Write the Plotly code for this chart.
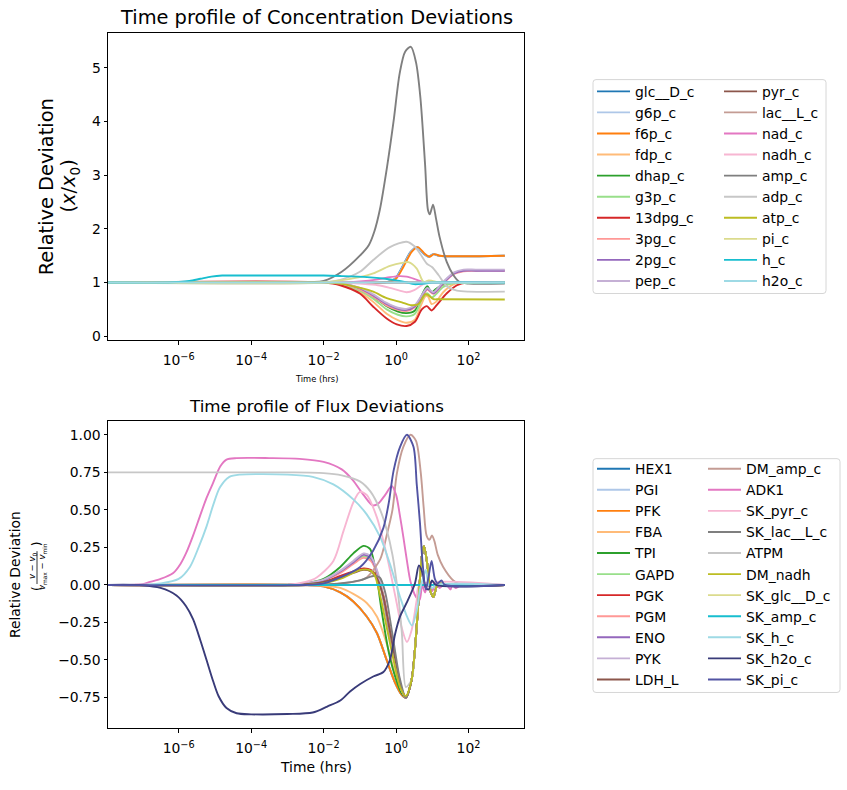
import numpy as np
import plotly.graph_objects as go

W, H = 847, 790

# ---------------- data: concentration deviations (x / x0) ----------------
CONC_NAMES = ["glc__D_c", "g6p_c", "f6p_c", "fdp_c", "dhap_c", "g3p_c", "13dpg_c",
              "3pg_c", "2pg_c", "pep_c", "pyr_c", "lac__L_c", "nad_c", "nadh_c",
              "amp_c", "adp_c", "atp_c", "pi_c", "h_c", "h2o_c"]
TAB20 = ["#1f77b4", "#aec7e8", "#ff7f0e", "#ffbb78", "#2ca02c", "#98df8a", "#d62728",
         "#ff9896", "#9467bd", "#c5b0d5", "#8c564b", "#c49c94", "#e377c2", "#f7b6d2",
         "#7f7f7f", "#c7c7c7", "#bcbd22", "#dbdb8d", "#17becf", "#9edae5"]
CONC_COLORS = TAB20

# log10(time in hours) and the relative deviation at those times
CONC_LOGT = {
    "glc__D_c": [-8.0, -1.5, -0.5, -0.18, -0.03, 0.17, 0.4, 0.57, 0.77, 0.89, 1.02, 1.17, 3.0],
    "g6p_c":    [-8.0, -1.5, -0.5, -0.17, -0.02, 0.18, 0.41, 0.58, 0.78, 0.9, 1.03, 1.18, 3.0],
    "f6p_c":    [-8.0, -1.5, -0.5, -0.15, 0.0, 0.2, 0.43, 0.6, 0.8, 0.92, 1.05, 1.2, 3.0],
    "fdp_c":    [-8.0, -2.0, -1.54, -1.0, -0.63, -0.26, 0.05, 0.29, 0.52, 0.7, 0.82, 0.88, 0.98, 1.1, 1.3, 1.6, 2.0, 3.0],
    "dhap_c":   [-8.0, -2.0, -1.5, -1.0, -0.63, -0.26, 0.05, 0.29, 0.52, 0.72, 0.86, 0.98, 1.1, 1.3, 1.6, 3.0],
    "g3p_c":    [-8.0, -2.0, -1.5, -1.0, -0.63, -0.26, 0.05, 0.29, 0.52, 0.72, 0.86, 0.98, 1.1, 1.3, 1.6, 3.0],
    "13dpg_c":  [-8.0, -2.0, -1.54, -0.99, -0.63, -0.26, 0.02, 0.29, 0.52, 0.71, 0.85, 0.98, 1.12, 1.4, 1.68, 1.95, 3.0],
    "3pg_c":    [-8.0, -2.0, -1.5, -0.99, -0.63, -0.26, 0.05, 0.29, 0.52, 0.76, 0.86, 1.03, 1.31, 1.6, 1.86, 2.2, 3.0],
    "2pg_c":    [-8.0, -2.0, -1.5, -0.99, -0.63, -0.26, 0.05, 0.29, 0.52, 0.76, 0.86, 1.03, 1.31, 1.6, 1.86, 2.2, 3.0],
    "pep_c":    [-8.0, -2.0, -1.5, -0.99, -0.63, -0.26, 0.05, 0.29, 0.52, 0.76, 0.86, 1.03, 1.31, 1.6, 1.86, 2.2, 3.0],
    "pyr_c":    [-8.0, 3.0],
    "lac__L_c": [-8.0, 3.0],
    "nad_c":    [-8.0, -1.5, -1.0, -0.5, -0.17, 0.1, 0.29, 0.5, 0.66, 0.85, 1.0, 1.2, 3.0],
    "nadh_c":   [-8.0, -1.5, -1.0, -0.5, -0.17, 0.1, 0.29, 0.5, 0.66, 0.8, 1.0, 3.0],
    "amp_c":    [-8.0, -3.0, -2.0, -1.5, -1.0, -0.75, -0.6, -0.45, -0.25, -0.07, 0.1, 0.25, 0.41,
                 0.55, 0.67, 0.8, 0.88, 0.93, 1.02, 1.1, 1.2, 1.4, 1.58, 1.75, 2.0, 3.0],
    "adp_c":    [-8.0, -2.0, -1.54, -1.0, -0.63, -0.17, 0.29, 0.5, 0.66, 0.85, 0.99, 1.17, 1.4, 1.68, 2.0, 3.0],
    "atp_c":    [-8.0, -2.0, -1.54, -0.99, -0.63, -0.26, 0.16, 0.4, 0.62, 0.8, 0.88, 1.03, 1.2, 3.0],
    "pi_c":     [-8.0, -2.0, -1.54, -1.0, -0.63, -0.17, 0.2, 0.34, 0.57, 0.76, 0.9, 1.0, 1.2, 3.0],
    "h_c":      [-8.0, -6.3, -6.0, -5.7, -5.4, -5.1, -4.8, -4.0, -2.0, -1.5, -0.8, -0.3, 0.0, 0.3, 0.5, 0.76, 1.0, 3.0],
    "h2o_c":    [-8.0, 3.0],
}
CONC_VALUES = {
    "glc__D_c": [1, 1, 0.99, 1.02, 1.07, 1.29, 1.57, 1.66, 1.53, 1.48, 1.53, 1.5, 1.5],
    "g6p_c":    [1, 1, 0.99, 1.02, 1.07, 1.29, 1.57, 1.66, 1.53, 1.48, 1.53, 1.5, 1.5],
    "f6p_c":    [1, 1, 0.99, 1.02, 1.07, 1.29, 1.57, 1.66, 1.53, 1.48, 1.53, 1.5, 1.5],
    "fdp_c":    [1, 1, 0.97, 0.82, 0.64, 0.42, 0.3, 0.25, 0.31, 0.6, 0.75, 0.74, 0.6, 0.64, 0.82, 0.97, 1.0, 1.0],
    "dhap_c":   [1, 1, 0.98, 0.88, 0.74, 0.56, 0.46, 0.43, 0.48, 0.78, 0.93, 0.82, 0.88, 0.96, 1.0, 1.0],
    "g3p_c":    [1, 1, 0.97, 0.85, 0.7, 0.5, 0.4, 0.37, 0.42, 0.7, 0.8, 0.72, 0.78, 0.92, 0.99, 1.0],
    "13dpg_c":  [1, 1, 0.95, 0.79, 0.55, 0.33, 0.22, 0.19, 0.27, 0.5, 0.56, 0.48, 0.58, 0.8, 0.95, 1.0, 1.0],
    "3pg_c":    [1, 1, 0.98, 0.87, 0.74, 0.57, 0.49, 0.47, 0.54, 0.78, 0.87, 0.79, 0.99, 1.16, 1.21, 1.22, 1.22],
    "2pg_c":    [1, 1, 0.99, 0.89, 0.76, 0.6, 0.51, 0.49, 0.56, 0.8, 0.89, 0.8, 1.0, 1.17, 1.22, 1.22, 1.22],
    "pep_c":    [1, 1, 0.99, 0.9, 0.78, 0.62, 0.53, 0.51, 0.58, 0.82, 0.9, 0.82, 1.02, 1.19, 1.24, 1.24, 1.24],
    "pyr_c":    [1, 1],
    "lac__L_c": [1, 1],
    "nad_c":    [1, 1, 1.02, 1.06, 1.1, 1.12, 1.11, 1.07, 1.03, 1.0, 1.01, 1.0, 1.0],
    "nadh_c":   [1, 1, 0.98, 0.95, 0.9, 0.85, 0.82, 0.86, 0.93, 0.99, 1.0, 1.0],
    "amp_c":    [1, 1, 1.03, 1.2, 1.5, 1.7, 1.95, 2.35, 3.15, 4.0, 4.9, 5.3, 5.39,
                 5.1, 4.45, 3.2, 2.35, 2.27, 2.45, 2.2, 1.85, 1.38, 1.14, 1.01, 0.98, 0.98],
    "adp_c":    [1, 1.0, 1.05, 1.2, 1.42, 1.66, 1.76, 1.68, 1.54, 1.35, 1.29, 1.14, 0.93, 0.85, 0.83, 0.83],
    "atp_c":    [1, 1, 0.98, 0.9, 0.83, 0.71, 0.63, 0.58, 0.6, 0.78, 0.77, 0.69, 0.69, 0.685],
    "pi_c":     [1, 1, 1.04, 1.1, 1.17, 1.31, 1.37, 1.38, 1.26, 1.01, 1.04, 1.03, 1.0, 1.0],
    "h_c":      [1, 1.0, 1.01, 1.03, 1.07, 1.11, 1.13, 1.13, 1.13, 1.12, 1.1, 1.07, 1.04, 1.0, 0.97, 0.98, 1.0, 1.0],
    "h2o_c":    [1, 1],
}

# ---------------- data: flux deviations ----------------
FLUX_NAMES = ["HEX1", "PGI", "PFK", "FBA", "TPI", "GAPD", "PGK", "PGM", "ENO", "PYK",
              "LDH_L", "DM_amp_c", "ADK1", "SK_pyr_c", "SK_lac__L_c", "ATPM", "DM_nadh",
              "SK_glc__D_c", "SK_amp_c", "SK_h_c", "SK_h2o_c", "SK_pi_c"]
FLUX_COLORS = TAB20 + ["#393b79", "#5254a3"]

# shared damped oscillation after the glycolytic dip (log10 time, deviation)
GLYC_TAIL_LOGT = [0.43, 0.52, 0.62, 0.71, 0.77, 0.86, 0.96, 1.03, 1.12, 1.21, 1.4, 3.0]
GLYC_TAIL_VALUES = [-0.63, -0.43, -0.1, 0.19, 0.26, 0.14, -0.05, -0.08, -0.01, 0.01, 0.0, 0.0]
GLYC_WITH_TAIL = ["HEX1", "PGI", "PFK", "FBA", "TPI", "GAPD", "PGK", "PGM", "ENO", "PYK",
                  "LDH_L", "SK_lac__L_c", "ATPM", "DM_nadh"]

FLUX_LOGT = {
    "HEX1": [-8.0, -2.5, -2.0, -1.54, -1.18, -0.81, -0.53, -0.26, -0.03, 0.15, 0.27],
    "PGI":  [-8.0, -2.5, -2.0, -1.54, -1.18, -0.81, -0.53, -0.26, -0.03, 0.15, 0.27],
    "PFK":  [-8.0, -2.5, -2.0, -1.54, -1.18, -0.81, -0.53, -0.26, -0.03, 0.15, 0.27],
    "FBA":  [-8.0, -2.5, -2.0, -1.54, -1.18, -0.81, -0.53, -0.26, -0.03, 0.15, 0.27],
    "TPI":  [-8.0, -3.0, -2.5, -2.0, -1.54, -1.18, -0.9, -0.72, -0.6, -0.5, -0.4, -0.2, 0.0, 0.15, 0.27],
    "GAPD": [-8.0, -3.0, -2.5, -2.0, -1.54, -1.18, -0.9, -0.7, -0.5, -0.35, -0.2, 0.0, 0.15, 0.27],
    "PGK":  [-8.0, -3.0, -2.5, -2.0, -1.54, -1.18, -0.9, -0.7, -0.5, -0.35, -0.2, 0.0, 0.15, 0.27],
    "PGM":  [-8.0, -3.0, -2.5, -2.0, -1.54, -1.18, -0.9, -0.7, -0.5, -0.35, -0.2, 0.0, 0.15, 0.27],
    "ENO":  [-8.0, -3.0, -2.5, -2.0, -1.54, -1.18, -0.9, -0.7, -0.5, -0.35, -0.2, 0.0, 0.15, 0.27],
    "PYK":  [-8.0, -3.0, -2.5, -2.0, -1.54, -1.18, -0.9, -0.7, -0.5, -0.35, -0.2, 0.0, 0.15, 0.27],
    "LDH_L": [-8.0, -3.0, -2.5, -2.0, -1.54, -1.18, -0.9, -0.7, -0.5, -0.35, -0.2, 0.0, 0.15, 0.27],
    "DM_amp_c": [-8.0, -2.0, -1.5, -1.0, -0.81, -0.44, -0.26, -0.1, 0.02, 0.2, 0.4, 0.55, 0.68,
                 0.76, 0.84, 0.92, 0.99, 1.06, 1.15, 1.3, 1.58, 1.8, 3.0],
    "ADK1": [-8.0, -7.0, -6.79, -6.5, -6.15, -5.95, -5.78, -5.6, -5.41, -5.23, -5.05, -4.85, -4.68,
             -4.4, -3.5, -2.66, -2.0, -1.5, -1.2, -0.9, -0.65, -0.5, -0.3, -0.12, 0.0, 0.1, 0.2,
             0.3, 0.4, 0.55, 0.65, 0.72, 0.8, 0.9, 1.0, 1.1, 1.2, 1.35, 1.5, 1.55, 1.65, 1.8, 3.0],
    "SK_pyr_c": [-8.0, -3.0, -2.5, -2.19, -1.73, -1.45, -1.18, -1.0, -0.81, -0.53, -0.26, 0.0,
                 0.15, 0.3, 0.43, 0.57, 0.65, 3.0],
    "SK_lac__L_c": [-8.0, -2.5, -1.54, -1.0, -0.63, -0.45, -0.3, -0.1, 0.1, 0.27],
    "ATPM": [-8.0, -3.0, -2.0, -1.5, -1.0, -0.7, -0.44, -0.26, -0.1, 0.05, 0.16, 0.27],
    "DM_nadh": [-8.0, -2.5, -2.0, -1.54, -0.99, -0.75, -0.6, -0.44, -0.26, -0.07, 0.11, 0.27],
    "SK_glc__D_c": [-8.0, 3.0],
    "SK_amp_c": [-8.0, 3.0],
    "SK_h_c": [-8.0, -7.0, -6.5, -6.0, -5.69, -5.45, -5.23, -5.05, -4.86, -4.6, -4.3, -3.0, -2.3,
               -1.73, -1.18, -0.81, -0.44, -0.17, 0.11, 0.3, 0.44, 0.57, 0.66, 0.75, 0.82, 0.9,
               1.0, 1.1, 3.0],
    "SK_h2o_c": [-8.0, -7.0, -6.5, -6.06, -5.8, -5.6, -5.4, -5.23, -5.05, -4.9, -4.68, -4.4, -4.0,
                 -3.0, -2.3, -1.9, -1.54, -1.27, -0.99, -0.63, -0.35, -0.17, -0.03, 0.11, 0.29,
                 0.52, 0.63, 0.73, 0.82, 0.9, 0.99, 1.1, 3.0],
    "SK_pi_c": [-8.0, -2.5, -2.0, -1.54, -0.99, -0.63, -0.35, -0.2, -0.07, 0.11, 0.3, 0.48, 0.57,
                0.66, 0.73, 0.82, 0.9, 0.98, 1.07, 1.15, 1.25, 1.35, 3.0],
}
FLUX_VALUES = {
    "HEX1": [0, 0, -0.01, -0.05, -0.11, -0.21, -0.32, -0.5, -0.65, -0.73, -0.75],
    "PGI":  [0, 0, -0.01, -0.05, -0.11, -0.21, -0.32, -0.5, -0.65, -0.73, -0.75],
    "PFK":  [0, 0, -0.01, -0.05, -0.11, -0.21, -0.32, -0.5, -0.65, -0.73, -0.75],
    "FBA":  [0, 0, -0.005, -0.02, -0.06, -0.12, -0.21, -0.39, -0.59, -0.71, -0.74],
    "TPI":  [0, 0, 0.01, 0.04, 0.12, 0.21, 0.26, 0.24, 0.14, 0.0, -0.17, -0.45, -0.63, -0.72, -0.75],
    "GAPD": [0, 0, 0.01, 0.03, 0.09, 0.15, 0.19, 0.17, 0.06, -0.1, -0.3, -0.55, -0.7, -0.75],
    "PGK":  [0, 0, 0.005, 0.02, 0.06, 0.09, 0.11, 0.1, 0.04, -0.07, -0.26, -0.52, -0.69, -0.75],
    "PGM":  [0, 0, 0.01, 0.03, 0.08, 0.14, 0.18, 0.16, 0.06, -0.09, -0.29, -0.54, -0.7, -0.75],
    "ENO":  [0, 0, 0.01, 0.03, 0.09, 0.15, 0.2, 0.18, 0.07, -0.09, -0.29, -0.54, -0.7, -0.75],
    "PYK":  [0, 0, 0.01, 0.035, 0.095, 0.16, 0.21, 0.19, 0.08, -0.08, -0.28, -0.53, -0.7, -0.75],
    "LDH_L": [0, 0, 0.005, 0.02, 0.05, 0.08, 0.1, 0.09, 0.03, -0.08, -0.27, -0.52, -0.69, -0.75],
    "DM_amp_c": [0, 0, 0.01, 0.03, 0.05, 0.17, 0.33, 0.5, 0.74, 0.92, 1.0, 0.96, 0.75,
                 0.52, 0.33, 0.3, 0.33, 0.29, 0.2, 0.12, 0.03, 0.0, 0.0],
    "ADK1": [0, 0.005, 0.02, 0.04, 0.08, 0.14, 0.22, 0.33, 0.46, 0.58, 0.68, 0.79, 0.835,
             0.845, 0.845, 0.84, 0.82, 0.77, 0.7, 0.6, 0.53, 0.54, 0.6, 0.66, 0.6, 0.47, 0.32,
             0.16, 0.02, -0.08, -0.1, 0.0, -0.05, 0.03, -0.04, 0.02, -0.02, 0.01, -0.03, 0.0, -0.02, 0.0, 0.0],
    "SK_pyr_c": [0, 0, 0.02, 0.05, 0.16, 0.36, 0.55, 0.62, 0.6, 0.45, 0.2, -0.1,
                 -0.28, -0.38, -0.3, -0.1, 0.0, 0.0],
    "SK_lac__L_c": [0, 0, 0.01, 0.03, 0.06, 0.05, -0.05, -0.33, -0.62, -0.75],
    "ATPM": [0.75, 0.75, 0.745, 0.73, 0.69, 0.62, 0.5, 0.37, 0.2, -0.05, -0.32, -0.68],
    "DM_nadh": [0, 0, 0.01, 0.04, 0.1, 0.1, 0.07, -0.07, -0.28, -0.5, -0.68, -0.74],
    "SK_glc__D_c": [0, 0],
    "SK_amp_c": [0, 0],
    "SK_h_c": [0, 0.002, 0.01, 0.04, 0.12, 0.25, 0.39, 0.53, 0.65, 0.72, 0.735, 0.735, 0.72,
               0.67, 0.57, 0.47, 0.32, 0.14, -0.08, -0.21, -0.27, -0.17, -0.03, 0.05, 0.1, 0.0,
               -0.02, 0.0, 0.0],
    "SK_h2o_c": [0, -0.002, -0.02, -0.07, -0.14, -0.23, -0.37, -0.5, -0.64, -0.74, -0.82, -0.855, -0.862,
                 -0.86, -0.85, -0.81, -0.77, -0.71, -0.66, -0.61, -0.58, -0.5, -0.33, -0.21, -0.12,
                 0.01, 0.13, 0.08, -0.02, -0.03, 0.03, 0.0, 0.0],
    "SK_pi_c": [0, 0, 0.01, 0.05, 0.12, 0.23, 0.38, 0.55, 0.76, 0.92, 1.0, 0.92, 0.67,
                0.41, 0.15, -0.03, 0.06, 0.16, 0.04, 0.01, 0.03, 0.0, 0.0],
}

X_TICK_VALS = [1e-6, 1e-4, 1e-2, 1, 1e2]
X_TICK_TEXT = ["10<sup>−6</sup>", "10<sup>−4</sup>", "10<sup>−2</sup>", "10<sup>0</sup>", "10<sup>2</sup>"]
CONC_Y_TICKS = [0, 1, 2, 3, 4, 5]
FLUX_Y_TICKS = [-0.75, -0.5, -0.25, 0.0, 0.25, 0.5, 0.75, 1.0]
FLUX_Y_TICK_TEXT = ["−0.75", "−0.50", "−0.25", "0.00", "0.25", "0.50", "0.75", "1.00"]

FONT = "DejaVu Sans"


def px(x):
    return x / W


def py(y):
    return 1 - y / H


fig = go.Figure()

for i, name in enumerate(CONC_NAMES):
    t = np.power(10.0, np.array(CONC_LOGT[name]))
    fig.add_trace(go.Scatter(
        x=t, y=CONC_VALUES[name], mode="lines", name=name,
        line=dict(color=CONC_COLORS[i], width=1.9, shape="spline", smoothing=0.8),
        xaxis="x", yaxis="y", legend="legend" if i < 10 else "legend2",
        hoverinfo="skip"))

for i, name in enumerate(FLUX_NAMES):
    logt = list(FLUX_LOGT[name])
    vals = list(FLUX_VALUES[name])
    if name in GLYC_WITH_TAIL:
        logt = logt + GLYC_TAIL_LOGT
        vals = vals + GLYC_TAIL_VALUES
    t = np.power(10.0, np.array(logt))
    fig.add_trace(go.Scatter(
        x=t, y=vals, mode="lines", name=name,
        line=dict(color=FLUX_COLORS[i], width=1.9, shape="spline", smoothing=0.8),
        xaxis="x2", yaxis="y2", legend="legend3" if i < 11 else "legend4",
        hoverinfo="skip"))

axis_common = dict(showline=True, mirror=True, linecolor="black", linewidth=1,
                   ticks="outside", ticklen=3.5, tickwidth=1, tickcolor="black",
                   showgrid=False, zeroline=False,
                   tickfont=dict(family=FONT, size=13.9, color="black"))

XR = [-7.95, 3.53]
fig.update_layout(
    width=W, height=H,
    margin=dict(l=0, r=0, t=0, b=0),
    paper_bgcolor="white", plot_bgcolor="white",
    font=dict(family=FONT, color="black"),
    xaxis=dict(type="log", range=XR, domain=[px(108), px(524)], anchor="y",
               tickvals=X_TICK_VALS, ticktext=X_TICK_TEXT, ticklabelstandoff=4, **axis_common),
    yaxis=dict(range=[-0.075, 5.65], domain=[py(342), py(33)], anchor="x",
               tickvals=CONC_Y_TICKS, ticktext=[str(v) for v in CONC_Y_TICKS], **axis_common),
    xaxis2=dict(type="log", range=XR, domain=[px(108), px(524)], anchor="y2",
                tickvals=X_TICK_VALS, ticktext=X_TICK_TEXT, ticklabelstandoff=4, **axis_common),
    yaxis2=dict(range=[-0.955, 1.093], domain=[py(732), py(423)], anchor="x2",
                tickvals=FLUX_Y_TICKS, ticktext=FLUX_Y_TICK_TEXT, **axis_common),
    showlegend=True,
)

leg_common = dict(xanchor="left", yanchor="top", bgcolor="rgba(0,0,0,0)", borderwidth=0,
                  font=dict(family=FONT, size=13.9, color="black"), tracegroupgap=0,
                  itemwidth=33, itemclick=False, itemdoubleclick=False)
fig.update_layout(
    legend=dict(x=px(592), y=py(76.2), **leg_common),
    legend2=dict(x=px(719), y=py(76.2), **leg_common),
    legend3=dict(x=px(592), y=py(455.5), **leg_common),
    legend4=dict(x=px(703), y=py(455.5), **leg_common),
)


def rounded_rect(x0, y0, x1, y1, r=3):
    X0, X1 = px(x0), px(x1)
    Y0, Y1 = py(y0), py(y1)
    rx, ry = r / W, r / H
    return (f"M{X0+rx},{Y0} L{X1-rx},{Y0} Q{X1},{Y0} {X1},{Y0-ry} "
            f"L{X1},{Y1+ry} Q{X1},{Y1} {X1-rx},{Y1} L{X0+rx},{Y1} Q{X0},{Y1} {X0},{Y1+ry} "
            f"L{X0},{Y0-ry} Q{X0},{Y0} {X0+rx},{Y0} Z")


fig.add_shape(type="path", path=rounded_rect(593, 80, 826, 295), xref="paper", yref="paper",
              line=dict(color="#d6d6d6", width=1), fillcolor="rgba(255,255,255,0.8)", layer="below")
fig.add_shape(type="path", path=rounded_rect(593, 461, 840, 696), xref="paper", yref="paper",
              line=dict(color="#d6d6d6", width=1), fillcolor="rgba(255,255,255,0.8)", layer="below")
# fraction bar of the flux y-label
fig.add_shape(type="line", x0=px(37), x1=px(37), y0=py(554), y1=py(587), xref="paper", yref="paper",
              line=dict(color="black", width=0.8))


def ann(text, x, y, size, angle=0):
    fig.add_annotation(text=text, x=px(x), y=py(y), xref="paper", yref="paper",
                       xanchor="center", yanchor="middle", showarrow=False, textangle=angle,
                       font=dict(family=FONT, size=size, color="black"))


ann("Time profile of Concentration Deviations", 316, 18, 19.4)
ann("Time profile of Flux Deviations", 316, 408, 16.7)
ann("Relative Deviation", 46.7, 187.5, 19.4, -90)
ann("(<i>x</i>/<i>x</i><sub>0</sub>)", 70, 187.5, 19.4, -90)
ann("Time (hrs)", 316, 381, 8.3)
ann("Time (hrs)", 316, 771, 13.9)
ann("Relative Deviation", 15, 578, 13.9, -90)
ann("<i>v</i> − <i>v</i><sub>0</sub>", 32, 569, 8.5, -90)
ann("<i>v</i><sub>max</sub> − <i>v</i><sub>min</sub>", 42, 570, 8.5, -90)
ann("(", 37, 592, 12, -90)
ann(")", 37, 547, 12, -90)

fig.write_html("out.html")
